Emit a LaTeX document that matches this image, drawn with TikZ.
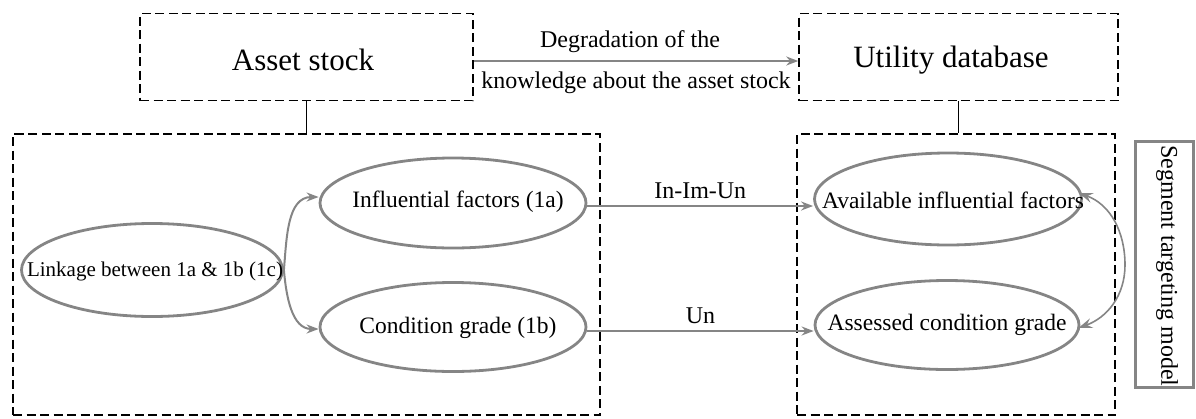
\documentclass[tikz,border=0pt]{standalone}
\usepackage{fontspec}
\setmainfont{Liberation Serif}
\usetikzlibrary{shapes.geometric,arrows.meta}
\definecolor{eg}{HTML}{858585}
\tikzset{
  dbox/.style={draw=black, line width=1.5pt, dash pattern=on 9pt off 4.5pt, inner sep=0pt},
  oval/.style={ellipse, draw=eg, line width=2.8pt, inner sep=0pt},
  otxt/.style={inner sep=0pt, font=\fontsize{23.5}{28}\selectfont},
  garrow/.style={draw=eg, line width=2pt, -{Stealth[length=12pt,width=9pt]}},
  thinarrow/.style={draw=eg, line width=1.6pt, {Stealth[length=14pt,width=10pt,inset=5pt]}-{Stealth[length=14pt,width=10pt,inset=5pt]}},
  lbl/.style={font=\fontsize{24}{28}\selectfont, inner sep=0pt},
  big/.style={font=\fontsize{31}{36}\selectfont, inner sep=0pt}
}
\begin{document}
\begin{tikzpicture}[x=1pt,y=-1pt]
\useasboundingbox (0,0) rectangle (1196,418);
% top boxes
\node[dbox, minimum width=333pt, minimum height=87pt] (asset) at (306.5,57) {};
\node[big] (assettxt) at (303,60) {Asset stock};
\node[dbox, minimum width=319pt, minimum height=87pt] (util) at (958.5,57) {};
\node[big] (utiltxt) at (951,60) {Utility database};
% big boxes
\node[dbox, minimum width=587pt, minimum height=281pt] (left) at (306.5,274.5) {};
\node[dbox, minimum width=318pt, minimum height=281pt] (right) at (956,274.5) {};
% connectors between top and big boxes
\draw[line width=1.5pt] (asset.south) -- (asset.south |- left.north);
\draw[line width=1.5pt] (util.south) -- (util.south |- right.north);
% top arrow
\draw[garrow] ([yshift=-4pt]asset.east) -- ([yshift=-4pt]util.west)
  node[lbl, midway, above=7pt, xshift=-6pt] (deg1) {Degradation of the}
  node[lbl, midway, below=10pt] (deg2) {knowledge about the asset stock};
% ellipses
\node[oval, minimum width=261pt, minimum height=93pt] (link) at (152,270) {};
\node[otxt, font=\fontsize{21}{26}\selectfont] (linktxt) at (155,271) {Linkage between 1a \& 1b (1c)};
\node[oval, minimum width=266pt, minimum height=90pt] (infl) at (453,203) {};
\node[otxt] (infltxt) at (458,202) {Influential factors (1a)};
\node[oval, minimum width=266pt, minimum height=89pt] (cond) at (453,327) {};
\node[otxt] (condtxt) at (458,328) {Condition grade (1b)};
\node[oval, minimum width=267pt, minimum height=92pt] (avail) at (948,199) {};
\node[otxt] (availtxt) at (953,200) {Available influential factors};
\node[oval, minimum width=264pt, minimum height=89pt] (assess) at (947,325) {};
\node[otxt] (assesstxt) at (947,325) {Assessed condition grade};
% left curved arrows
\draw[garrow] (link.east) to[out=85,in=180] ([yshift=6pt]infl.west);
\draw[garrow] (link.east) to[out=-85,in=180] ([yshift=-2pt]cond.west);
% horizontal arrows
\draw[garrow] ([yshift=-3pt]infl.east) -- ([yshift=-3pt]infl.east -| avail.west)
  node[lbl, midway, above=6pt] (iiu) {In-Im-Un};
\draw[garrow] ([yshift=-4pt]cond.east) -- ([yshift=-4pt]cond.east -| assess.west)
  node[lbl, midway, above=6pt] (un) {Un};
% double curved arrow
\draw[thinarrow] ([xshift=-4pt,yshift=6pt]avail.east) to[out=-20,in=90] (1125,265) to[out=-90,in=20] ([xshift=-2pt,yshift=-3pt]assess.east);
% segment targeting model
\node[draw=eg, line width=3pt, minimum width=58pt, minimum height=246pt, inner sep=0pt] (seg) at (1164,264) {};
\node[lbl, rotate=-90] (segtxt) at (1167,266) {Segment targeting model};
\end{tikzpicture}
\end{document}
